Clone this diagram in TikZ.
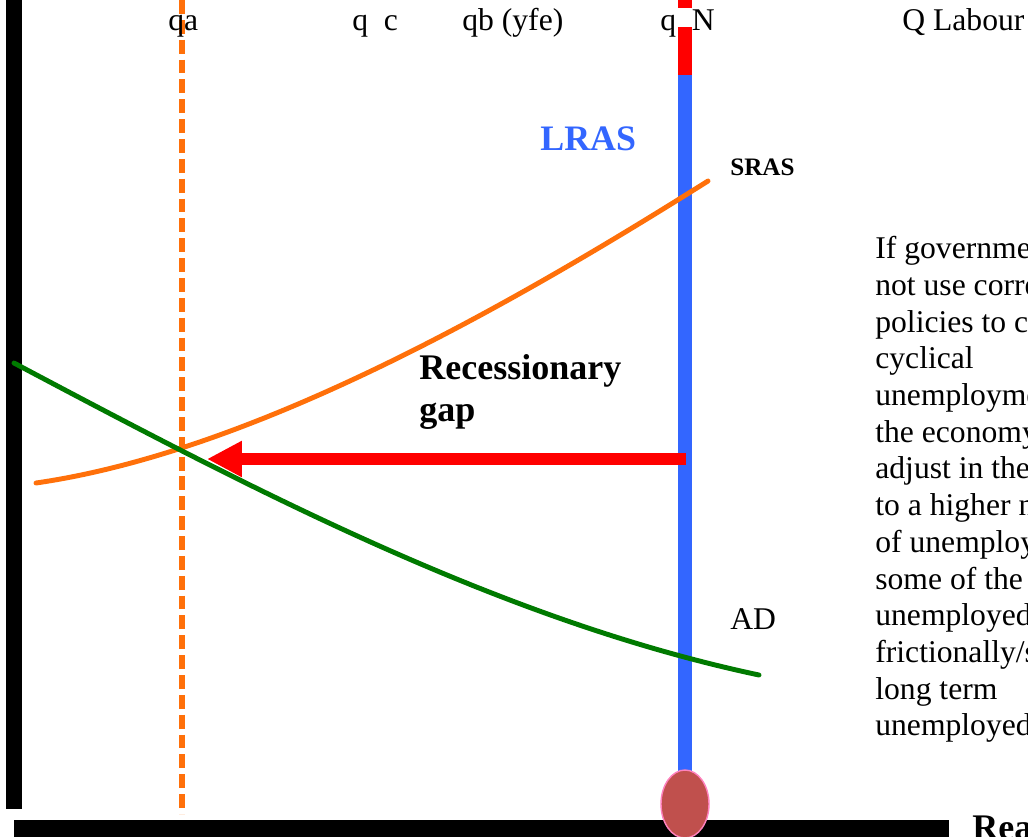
\documentclass[tikz,border=0pt]{standalone}
\usepackage{fontspec}
\setmainfont{Liberation Serif}
\usetikzlibrary{arrows.meta,shapes.geometric}
\definecolor{lrasblue}{RGB}{51,102,255}
\definecolor{srasorange}{RGB}{255,112,10}
\definecolor{adgreen}{RGB}{0,122,0}
\definecolor{footred}{RGB}{192,80,77}
\definecolor{footrim}{RGB}{255,130,190}
\tikzset{
  lab/.style={anchor=base west, inner sep=0pt, font=\fontsize{18}{20.9}\selectfont},
  blab/.style={anchor=base west, inner sep=0pt, font=\fontsize{20.5}{24}\selectfont\bfseries},
  curve/.style={line width=2.8pt, line cap=round},
  qaline/.style={draw=srasorange, line width=3.4pt, dash pattern=on 7.9pt off 3.4pt},
  lrasbar/.style={draw=lrasblue, line width=8.5pt},
  topbar/.style={draw=red, line width=8.5pt},
  gaparrow/.style={draw=red, line width=6.8pt, -{Triangle[length=19.9pt,width=19.3pt]}},
  foot/.style={ellipse, fill=footred, draw=footrim, line width=0.8pt,
               minimum width=0.96cm, minimum height=1.36cm, inner sep=0pt},
}

\begin{document}
\begin{tikzpicture}[x=0.02cm,y=-0.02cm]
  \useasboundingbox (0,0) rectangle (1028,836);
  \clip (0,0) rectangle (1028,836);
  \fill[black] (6,0) rectangle (22,809);
  \fill[black] (14,820) rectangle (949,840);
  \coordinate (qatop) at (182,0);
  \coordinate (qabot) at (182,814);
  \draw[qaline] (qatop) -- (qabot);
  \coordinate (lrastop) at (685,75);
  \coordinate (lrasbase) at (685,804);
  \draw[lrasbar] (lrastop) -- (lrasbase);
  \coordinate (nA) at (685,0);
  \coordinate (nB) at (685,8);
  \coordinate (nC) at (685,27);
  \draw[topbar] (nA) -- (nB) (nC) -- (lrastop);
  \node[foot] (lrasfoot) at (lrasbase) {};
  \coordinate (sras0) at (36,483);
  \coordinate (sras1) at (708,181);
  \coordinate (ad0) at (14,363);
  \coordinate (ad1) at (759,675);
  \draw[curve, srasorange] (sras0) .. controls (250,452) and (500,312) .. (sras1);
  \draw[curve, adgreen] (ad0) .. controls (250,488) and (500,620) .. (ad1);
  \coordinate (gapstart) at (686,459);
  \coordinate (gapend) at (207,459);
  \draw[gaparrow] (gapstart) -- (gapend);
  \node[lab] (qa) at (168,30) {qa};
  \node[lab] (qc) at (352,30) {q\ \ c};
  \node[lab] (qb) at (462,30) {qb (yfe)};
  \node[lab] (qn) at (660,30) {q\ \ N};
  \node[lab] (qlab) at (902,30) {Q Labour};
  \node[blab, text=lrasblue, font=\fontsize{20.4}{23}\selectfont\bfseries] (lras) at (540,150) {LRAS};
  \node[blab, font=\fontsize{14.3}{16}\selectfont\bfseries] (sras) at (730,175) {SRAS};
  \node[lab] (ad) at (730,629) {AD};
  \node[blab, anchor=north west, align=left] (recgap) at (419,354) {Recessionary\\gap};
  \node[lab, anchor=north west, align=left] (note) at (875,236)
    {If governme\\not use corre\\policies to c\\cyclical\\unemployme\\the economy\\adjust in the\\to a higher n\\of unemploy\\some of the\\unemployed\\frictionally/s\\long term\\unemployed};
  \node[blab] (real) at (972,839) {Rea};
\end{tikzpicture}
\end{document}
